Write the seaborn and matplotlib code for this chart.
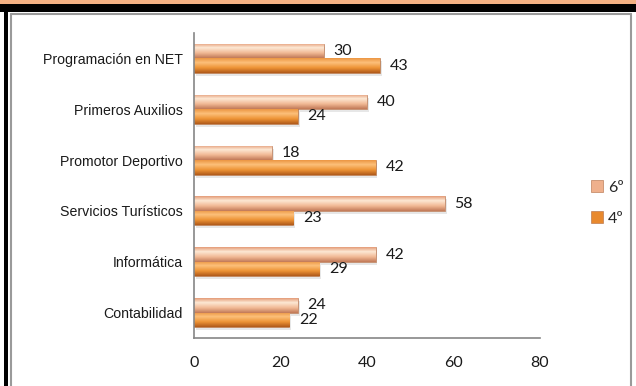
import pandas as pd
import matplotlib
matplotlib.use("Agg")
import matplotlib.pyplot as plt
import seaborn as sns
import numpy as np
from matplotlib.colors import LinearSegmentedColormap
from matplotlib.patches import Rectangle
from matplotlib.lines import Line2D

# Daten
cursos = ["Programación en NET", "Primeros Auxilios", "Promotor Deportivo",
          "Servicios Turísticos", "Informática", "Contabilidad"]
valores_6 = [30, 40, 18, 58, 42, 24]
valores_4 = [43, 24, 42, 23, 29, 22]
grados = ["6º", "4º"]
x_ticks = [0, 20, 40, 60, 80]

df = pd.DataFrame({
    "Curso": cursos * 2,
    "Valor": valores_6 + valores_4,
    "Grado": ["6º"] * len(cursos) + ["4º"] * len(cursos),
})

sns.set_style("white")
plt.rcParams["font.family"] = ["Liberation Sans", "DejaVu Sans"]

W, H = 636, 386
fig = plt.figure(figsize=(W / 100, H / 100), dpi=100)

# Rahmen oben / links wie im Screenshot
fig.add_artist(Rectangle((0, 1 - 4 / H), 1, 4 / H, transform=fig.transFigure,
                         color="#F4B183", lw=0))
fig.add_artist(Rectangle((0, 1 - 12 / H), 1, 8 / H, transform=fig.transFigure,
                         color="black", lw=0))
fig.add_artist(Rectangle((4 / W, 0), 4 / W, 1 - 4 / H, transform=fig.transFigure,
                         color="black", lw=0))
# grauer Diagrammrahmen
gx0, gx1, gy = 10.5 / W, 631 / W, 1 - 13.5 / H
for xs, ys in [([gx0, gx1], [gy, gy]), ([gx0, gx0], [0, gy]), ([gx1, gx1], [0, gy])]:
    fig.add_artist(Line2D(xs, ys, transform=fig.transFigure, color="#9A9A9A", lw=1.5))

ax = fig.add_axes([194 / W, 1 - 338 / H, (540 - 194) / W, (338 - 33) / H])

palette = {"6º": "#EFB08C", "4º": "#E8892E"}
sns.barplot(data=df, y="Curso", x="Valor", hue="Grado", hue_order=grados,
            orient="h", width=0.57, palette=palette, legend=False,
            edgecolor="#B06A40", linewidth=0.4, ax=ax)

# Farbverlauf in die Balken legen
cmaps = {
    "6º": LinearSegmentedColormap.from_list("c6", [(0, "#E49C78"), (0.3, "#FDE8D4"),
                                                  (0.65, "#F2BA96"), (1, "#C27A58")]),
    "4º": LinearSegmentedColormap.from_list("c4", [(0, "#EC9642"), (0.3, "#FCC07A"),
                                                  (0.65, "#EE9436"), (1, "#B05A1A")]),
}
grad = np.linspace(0, 1, 64).reshape(-1, 1)
for grado, cont in zip(grados, ax.containers):
    for p in cont.patches:
        x0, y0, w, h = p.get_x(), p.get_y(), p.get_width(), p.get_height()
        # leichter Schatten
        ax.add_patch(Rectangle((x0 + 0.4, y0 + 0.06), w, h, color="#D8D8D8",
                               alpha=0.6, zorder=p.get_zorder() - 0.1, lw=0))
        im = ax.imshow(grad, extent=[x0, x0 + w, y0, y0 + h], origin="lower",
                       cmap=cmaps[grado], aspect="auto", zorder=p.get_zorder() + 0.1)
        im.set_clip_path(p)
    ax.bar_label(cont, padding=7, fontsize=11.5, family=["Lato", "DejaVu Sans"],
                 color="#1A1A1A")

ax.set_xlim(0, 80)
ax.set_ylim(len(cursos) - 0.5, -0.5)
ax.set_xticks(x_ticks)
ax.set_xlabel("")
ax.set_ylabel("")

for s in ["top", "right"]:
    ax.spines[s].set_visible(False)
for s in ["left", "bottom"]:
    ax.spines[s].set_color("#868686")
    ax.spines[s].set_linewidth(1.2)

ax.set_yticks(np.arange(-0.5, len(cursos), 1), minor=True)
ax.tick_params(axis="y", which="major", length=0, pad=8, labelsize=10.2,
               labelcolor="#1A1A1A")
ax.tick_params(axis="y", which="minor", length=4, color="#868686", width=1)
ax.tick_params(axis="x", length=4, color="#868686", width=1, pad=9,
               labelsize=11.5, labelcolor="#1A1A1A")
for lab in ax.get_xticklabels():
    lab.set_family(["Lato", "DejaVu Sans"])

# Legende
handles = [Rectangle((0, 0), 1, 1, facecolor=palette[g], edgecolor="#B06A40", lw=0.4)
           for g in grados]
fig.legend(handles, grados, loc="center left", bbox_to_anchor=(577 / W, 1 - 203 / H),
           frameon=False, handlelength=0.75, handleheight=0.75, handletextpad=0.3,
           labelspacing=1.05, prop={"family": ["Lato", "DejaVu Sans"], "size": 11.5})

fig.savefig("out.png", dpi=100)
